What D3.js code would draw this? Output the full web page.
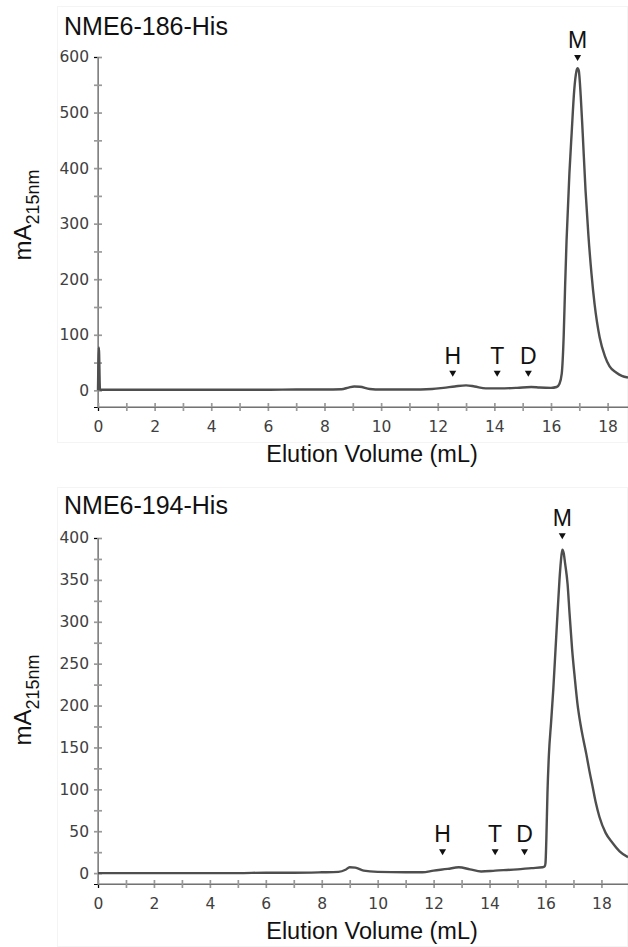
<!DOCTYPE html>
<html>
<head>
<meta charset="utf-8">
<script src="https://cdn.jsdelivr.net/npm/d3@7"></script>
<style>
  body { margin: 0; background: #fff; }
  svg { display: block; }
</style>
</head>
<body>
<div id="wrapper"></div>
<script>
// ---- data ----
// elution volume (mL) and absorbance (mA215nm), NME6-186-His
var vol186 = [0, 0.03, 0.07, 1, 2, 3, 4, 5, 6, 7, 8, 8.6, 8.85, 9.05, 9.25, 9.6, 10, 11, 11.8, 12.2, 12.6, 13.0, 13.3, 13.7, 14.2, 14.8, 15.3, 15.6, 16.0, 16.2,
  16.3, 16.38, 16.45, 16.5, 16.55, 16.65, 16.73, 16.82, 16.9, 16.94, 16.98, 17.05, 17.12, 17.22, 17.32, 17.43, 17.54, 17.72, 17.9, 18.07, 18.3, 18.5, 18.72];
var mA186 = [0, 77, 1, 1, 1, 1, 1, 1, 1, 1.5, 1.5, 2, 5, 7, 6.5, 2.5, 1.5, 1.5, 2.5, 4.5, 7, 9, 7, 3.5, 3.5, 4.5, 6, 5, 4.5, 6,
  12, 30, 100, 190, 270, 390, 463, 540, 575, 580, 576, 530, 463, 360, 280, 210, 155, 95, 62, 43, 32, 26, 23];

// NME6-194-His
var vol194 = [0, 1, 2, 3, 4, 5, 6, 7, 8, 8.6, 8.85, 9.0, 9.2, 9.5, 10, 11, 11.6, 12.0, 12.5, 12.9, 13.3, 13.7, 14.2, 15.0, 15.5, 15.9,
  15.97, 16.0, 16.03, 16.07, 16.12, 16.2, 16.28, 16.36, 16.43, 16.5, 16.55, 16.6, 16.65, 16.7, 16.79, 16.86, 16.95, 17.05, 17.14, 17.25, 17.35, 17.46, 17.57, 17.68, 17.8, 17.93, 18.15, 18.4, 18.65, 18.95];
var mA194 = [0, 0, 0, 0, 0, 0, 0.5, 0.5, 1, 1.5, 4, 7, 6.5, 3, 1.5, 1, 1, 3, 5, 7, 4.5, 2, 3, 4.5, 6, 7,
  8, 12, 40, 95, 140, 180, 220, 268, 310, 350, 372, 386, 382, 370, 345, 310, 268, 232, 203, 178, 160, 142, 122, 104, 84, 67, 48, 36, 26, 19];

var titles = ["NME6-186-His", "NME6-194-His"];
var yMax = [600, 400];
var yMin = [-30, -13];
var yStep = [100, 50];
var xMax = [18.72, 18.95];
var xTicks = [0, 2, 4, 6, 8, 10, 12, 14, 16, 18];

// peak markers: label, volume, height where the arrowhead sits
var markLabels = ["H", "T", "D", "M"];
var marks186 = [12.53, 14.1, 15.2, 16.94];
var markY186 = [30, 30, 30, 598];
var marks194 = [12.32, 14.2, 15.25, 16.6];
var markY194 = [25, 25, 25, 402];

var panels = [
  { vol: vol186, mA: mA186, marks: marks186, markY: markY186 },
  { vol: vol194, mA: mA194, marks: marks194, markY: markY194 }
];

// ---- layout ----
var W = 628, H = 947;
var boxes = [
  { top: 57, bottom: 407, left: 98, right: 628, titleY: 35, frameTop: 6, frameBottom: 443, ylab: 215 },
  { top: 538, bottom: 884, left: 98, right: 628, titleY: 514, frameTop: 487, frameBottom: 947, ylab: 700 }
];

var svg = d3.select("#wrapper").append("svg")
  .attr("width", W).attr("height", H);

var axisColor = "#9a9a9a";
var tickFont = "'DejaVu Sans', sans-serif";
var textFont = "'Liberation Sans', Arial, sans-serif";

panels.forEach(function(p, i) {
  var b = boxes[i];
  var g = svg.append("g");

  // faint frame of the exported plot
  g.append("rect")
    .attr("x", 57.5).attr("y", b.frameTop + 0.5)
    .attr("width", W - 58).attr("height", b.frameBottom - b.frameTop - 1)
    .attr("fill", "none").attr("stroke", "#f4f4f4");

  var x = d3.scaleLinear().domain([0, xMax[i]]).range([b.left, b.right]);
  var y = d3.scaleLinear().domain([yMin[i], yMax[i]]).range([b.bottom, b.top]);

  var yMajor = d3.range(0, yMax[i] + 1, yStep[i]);
  var yMinor = d3.range(yStep[i] / 2, yMax[i], yStep[i]);
  var xMinor = d3.range(1, xMax[i], 2);

  // y axis
  var yAx = g.append("g").attr("transform", "translate(" + b.left + ",0)")
    .call(d3.axisLeft(y).tickValues(yMajor).tickSize(4).tickPadding(5));
  yAx.append("g").call(d3.axisLeft(y).tickValues(yMinor).tickSize(4).tickFormat(""));
  yAx.select(".domain").remove();
  yAx.append("line").attr("x1", 0).attr("x2", 0)
    .attr("y1", y(yMax[i])).attr("y2", b.bottom);
  yAx.selectAll(".tick line").attr("x2", 4).attr("x1", -4);

  // x axis
  var xAx = g.append("g").attr("transform", "translate(0," + b.bottom + ")")
    .call(d3.axisBottom(x).tickValues(xTicks).tickSize(4).tickPadding(10));
  xAx.append("g").call(d3.axisBottom(x).tickValues(xMinor).tickSize(4).tickFormat(""));
  xAx.select(".domain").remove();
  xAx.append("line").attr("x1", b.left).attr("x2", b.right).attr("y1", 0).attr("y2", 0);
  xAx.selectAll(".tick line").attr("y1", -4).attr("y2", 4);

  [yAx, xAx].forEach(function(a) {
    a.selectAll("line").attr("stroke", axisColor).attr("stroke-width", 1.7);
    a.selectAll("text").attr("fill", "#404040").style("font-family", tickFont).style("font-size", "15.5px");
  });

  // trace
  var pts = p.vol.map(function(v, k) { return [v, p.mA[k]]; });
  var line = d3.line()
    .x(function(d) { return x(d[0]); })
    .y(function(d) { return y(d[1]); })
    .curve(d3.curveMonotoneX);
  g.append("path").datum(pts)
    .attr("d", line)
    .attr("fill", "none")
    .attr("stroke", "#4e4e4e")
    .attr("stroke-width", 2.4)
    .attr("stroke-linejoin", "round");

  // markers
  p.marks.forEach(function(v, k) {
    var cx = x(v), cy = y(p.markY[k]);
    g.append("path")
      .attr("d", "M" + (cx - 3.5) + "," + (cy - 3) + "L" + (cx + 3.5) + "," + (cy - 3) + "L" + cx + "," + (cy + 3) + "Z")
      .attr("fill", "#111");
    g.append("text")
      .attr("x", cx).attr("y", cy - 10)
      .attr("text-anchor", "middle")
      .style("font-family", textFont).style("font-size", "23px")
      .attr("fill", "#111")
      .text(markLabels[k]);
  });

  // title
  g.append("text")
    .attr("x", 64).attr("y", b.titleY)
    .style("font-family", textFont).style("font-size", "25px")
    .attr("fill", "#111")
    .text(titles[i]);

  // x label
  g.append("text")
    .attr("x", 372).attr("y", b.bottom + 55)
    .attr("text-anchor", "middle")
    .style("font-family", textFont).style("font-size", "23.5px")
    .attr("fill", "#111")
    .text("Elution Volume (mL)");

  // y label
  var yl = g.append("text")
    .attr("transform", "translate(31," + b.ylab + ") rotate(-90)")
    .attr("text-anchor", "middle")
    .style("font-family", textFont).style("font-size", "24px")
    .attr("fill", "#111");
  yl.append("tspan").text("mA");
  yl.append("tspan").attr("dy", 8).style("font-size", "18px").text("215nm");
});
</script>
</body>
</html>
